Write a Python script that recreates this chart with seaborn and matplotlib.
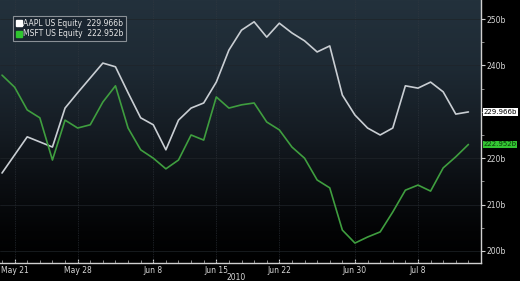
import numpy as np
import pandas as pd
import matplotlib
matplotlib.use("Agg")
import matplotlib.pyplot as plt
from matplotlib.lines import Line2D
from matplotlib.colors import LinearSegmentedColormap
import seaborn as sns

dates = ["May 20", "May 21", "May 24", "May 25", "May 26", "May 27", "May 28",
         "Jun 1", "Jun 2", "Jun 3", "Jun 4", "Jun 7", "Jun 8", "Jun 9", "Jun 10", "Jun 11",
         "Jun 14", "Jun 15", "Jun 16", "Jun 17", "Jun 18", "Jun 21", "Jun 22", "Jun 23",
         "Jun 24", "Jun 25", "Jun 28", "Jun 29", "Jun 30", "Jul 1", "Jul 2", "Jul 6",
         "Jul 7", "Jul 8", "Jul 9", "Jul 12", "Jul 13", "Jul 14"]
aapl = [216.8, 220.7, 224.6, 223.5, 222.4, 230.8, 234.1, 237.3, 240.5, 239.7, 234.1,
        228.7, 227.2, 221.8, 228.2, 230.8, 231.9, 236.4, 243.3, 247.6, 249.4, 246.1,
        249.1, 247.0, 245.3, 242.9, 244.2, 233.6, 229.3, 226.5, 225.0, 226.5, 235.6,
        235.1, 236.4, 234.3, 229.5, 229.966]
msft = [237.9, 235.3, 230.4, 228.7, 219.6, 228.2, 226.5, 227.2, 232.1, 235.6, 226.5,
        221.8, 220.0, 217.7, 219.6, 225.0, 223.9, 233.2, 230.8, 231.5, 231.9, 227.8,
        226.1, 222.4, 220.0, 215.3, 213.6, 204.5, 201.7, 203.0, 204.1, 208.4, 213.1,
        214.2, 212.9, 217.9, 220.3, 222.952]
tick_dates = ["May 21", "May 28", "Jun 8", "Jun 15", "Jun 22", "Jun 30", "Jul 8"]
y_ticks = [200, 210, 220, 240, 250]
y_tick_labels = ["200b", "210b", "220b", "240b", "250b"]
series_names = ["AAPL US Equity", "MSFT US Equity"]
last_labels = ["229.966b", "222.952b"]

WHITE = "#c9ced3"
GREEN = "#3f9e3f"

df = pd.DataFrame({"idx": list(range(len(dates))) * 2,
                   "value": aapl + msft,
                   "series": [series_names[0]] * len(dates) + [series_names[1]] * len(dates)})

sns.set_theme(style="dark")
fig = plt.figure(figsize=(5.2, 2.81), dpi=100, facecolor="black")
ax = fig.add_axes([0.0, 18 / 281, 481 / 520, 263 / 281])

ymin, ymax = 197.4, 254.1
xmin, xmax = -0.16, 38.0

# background gradient
cmap = LinearSegmentedColormap.from_list(
    "bg", [(0.0, "#000000"), (0.12, "#030405"), (0.3, "#0b0e12"), (0.5, "#151c23"),
           (0.75, "#1e2a34"), (1.0, "#23313c")])
grad = np.linspace(0, 1, 256).reshape(-1, 1)
ax.imshow(grad, extent=[xmin, xmax, ymin, ymax], origin="lower", aspect="auto",
          cmap=cmap, zorder=0)

sns.lineplot(data=df, x="idx", y="value", hue="series",
             palette={series_names[0]: WHITE, series_names[1]: GREEN},
             linewidth=1.2, ax=ax, legend=False, zorder=3)

ax.set_xlim(xmin, xmax)
ax.set_ylim(ymin, ymax)
ax.set_facecolor("black")

# grid lines
tick_pos = [dates.index(d) for d in tick_dates]
for p in tick_pos:
    ax.axvline(p, color="#343a42", lw=0.5, ls=(0, (1, 1.5)), zorder=1)
for v in y_ticks:
    ax.axhline(v, color="#1f2429", lw=0.5, zorder=1)

# spines
for s in ["top", "left"]:
    ax.spines[s].set_visible(False)
for s in ["right", "bottom"]:
    ax.spines[s].set_visible(True)
    ax.spines[s].set_color("#d0d0d0")
    ax.spines[s].set_linewidth(1.0)

ax.set_xticks(tick_pos)
ax.set_xticklabels(tick_dates)
ax.set_xticks(range(len(dates)), minor=True)
ax.tick_params(axis="x", which="major", direction="in", length=3, width=0.8,
               color="#d0d0d0", labelcolor="#d8d8d8", labelsize=5.5, pad=2,
               bottom=True)
ax.tick_params(axis="x", which="minor", direction="in", length=2, width=0.6,
               color="#a0a0a0", bottom=True)

ax.yaxis.tick_right()
ax.set_yticks(y_ticks)
ax.set_yticklabels(y_tick_labels)
ax.set_yticks(np.arange(200, 255, 5), minor=True)
ax.tick_params(axis="y", which="major", direction="out", length=3, width=0.8,
               color="#d0d0d0", labelcolor="#d8d8d8", labelsize=5.5, pad=1,
               right=True, left=False)
ax.tick_params(axis="y", which="minor", direction="out", length=2, width=0.6,
               color="#a0a0a0", right=True, left=False)
ax.set_xlabel("")
ax.set_ylabel("")
ax.grid(False)

# year label
fig.text(236 / 520, 1 - 277 / 281, "2010", color="#d8d8d8", fontsize=5.5,
         ha="center", va="center")

# last value tags
ax.annotate(last_labels[0], xy=(1.0, aapl[-1]), xycoords=("axes fraction", "data"),
            xytext=(2, 0), textcoords="offset points", fontsize=5, color="black",
            va="center", ha="left",
            bbox=dict(boxstyle="square,pad=0.1", fc="white", ec="none"))
ax.annotate(last_labels[1], xy=(1.0, msft[-1]), xycoords=("axes fraction", "data"),
            xytext=(2, 0), textcoords="offset points", fontsize=5, color="#0a3a0a",
            va="center", ha="left",
            bbox=dict(boxstyle="square,pad=0.1", fc="#33c433", ec="none"))

# legend
handles = [Line2D([], [], marker="s", ls="none", color="white", markersize=5),
           Line2D([], [], marker="s", ls="none", color="#2fc42f", markersize=5)]
labels = [f"{series_names[0]}  {last_labels[0]}", f"{series_names[1]}  {last_labels[1]}"]
leg = ax.legend(handles, labels, loc="upper left", bbox_to_anchor=(0.028, 0.94),
                fontsize=5.5, frameon=True, facecolor="#1a2530", edgecolor="#8a9096",
                framealpha=1, handlelength=0.6, handletextpad=0.2, borderpad=0.4,
                labelspacing=0.2, borderaxespad=0, fancybox=False)
leg.get_frame().set_linewidth(0.8)
for t in leg.get_texts():
    t.set_color("#e8e8e8")

fig.savefig("out.png", dpi=100, facecolor="black")
